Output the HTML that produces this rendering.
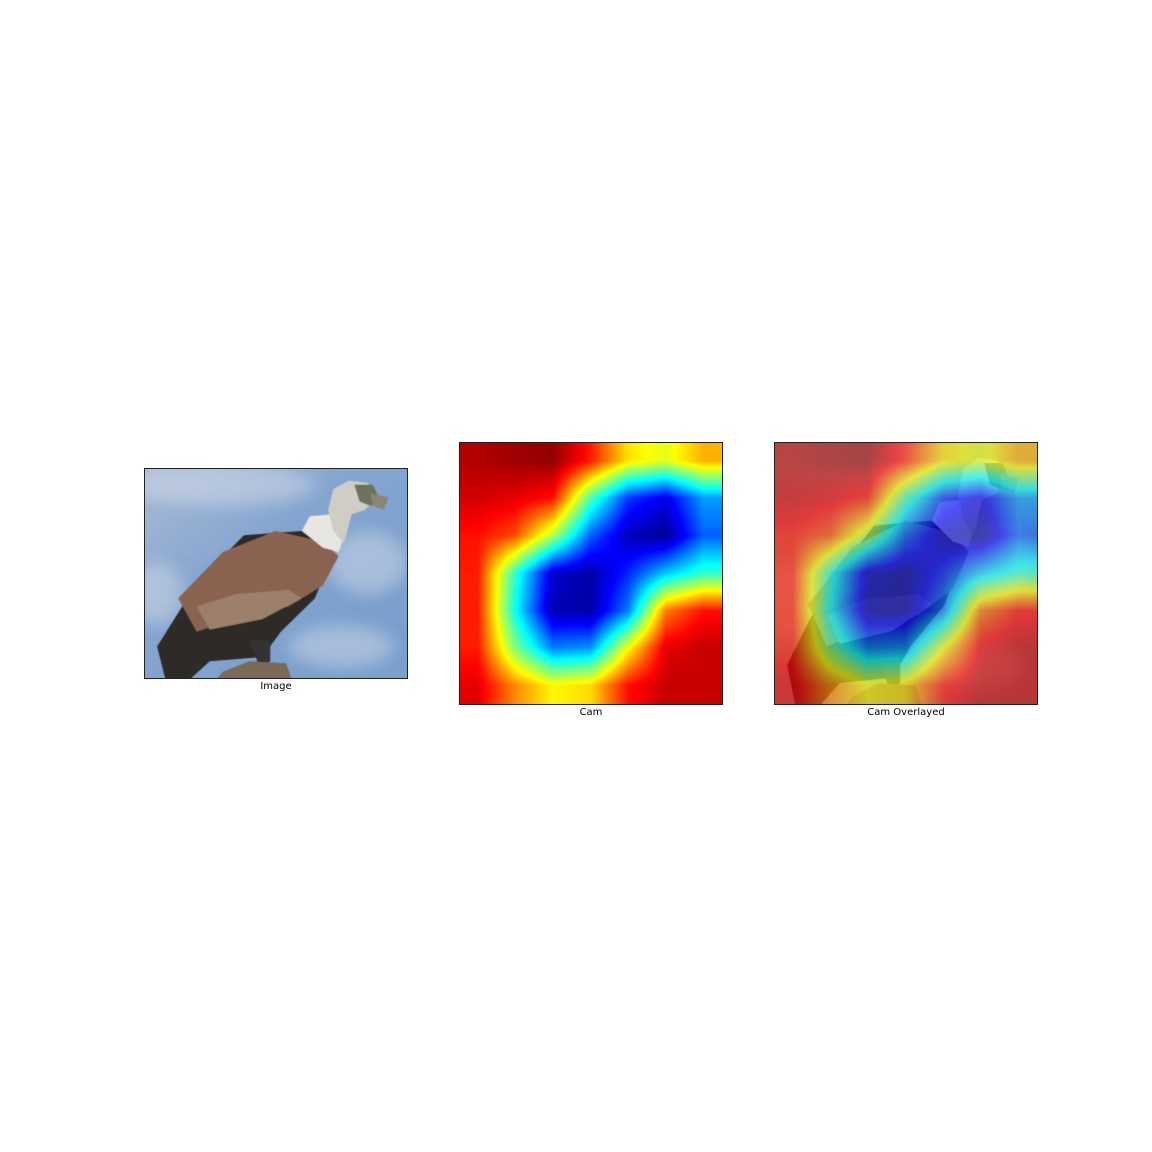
<!DOCTYPE html>
<html><head><meta charset="utf-8"><style>
html,body{margin:0;padding:0;background:#fff;width:1152px;height:1152px;overflow:hidden;position:relative;font-family:"DejaVu Sans","Liberation Sans",sans-serif}
canvas{position:absolute;display:block}
.frame{position:absolute;border:1px solid #222;box-sizing:border-box;pointer-events:none}
.lbl{position:absolute;font-size:10px;color:#000;text-align:center;width:200px}
</style></head><body>
<canvas id="img" width="263" height="210" style="left:144px;top:468px"></canvas>
<div class="frame" style="left:144px;top:468px;width:264px;height:211px"></div>
<div class="lbl" style="left:176px;top:681px">Image</div>
<canvas id="cam" width="263" height="262" style="left:459px;top:442px"></canvas>
<div class="frame" style="left:459px;top:442px;width:264px;height:263px"></div>
<div class="lbl" style="left:491px;top:707px">Cam</div>
<canvas id="ov" width="263" height="262" style="left:774px;top:442px"></canvas>
<div class="frame" style="left:774px;top:442px;width:264px;height:263px"></div>
<div class="lbl" style="left:806px;top:707px">Cam Overlayed</div>
<script>
const camRow0=[0.95,0.97,0.98,0.85,0.65,0.6,0.7];
const camRow1=[0.92,0.9,0.86,0.45,0.18,0.1,0.28];
const camRow2=[0.86,0.8,0.55,0.22,0.06,0.02,0.22];
const camRow3=[0.85,0.42,0.08,0.04,0.16,0.32,0.42];
const camRow4=[0.85,0.38,0.05,0.04,0.25,0.75,0.86];
const camRow5=[0.85,0.5,0.25,0.27,0.62,0.9,0.93];
const camRow6=[0.9,0.74,0.63,0.66,0.86,0.93,0.93];
const camGrid=[camRow0,camRow1,camRow2,camRow3,camRow4,camRow5,camRow6];

function jet(v){
  v=Math.max(0,Math.min(1,v));
  const f=x=>Math.max(0,Math.min(1,x));
  const r=f(1.5-Math.abs(4*v-3)),g=f(1.5-Math.abs(4*v-2)),b=f(1.5-Math.abs(4*v-1));
  return [r*255,g*255,b*255];
}
function camVal(u,v){
  const n=camGrid.length;
  let x=u*n-0.5,y=v*n-0.5;
  x=Math.max(0,Math.min(n-1,x));y=Math.max(0,Math.min(n-1,y));
  const x0=Math.floor(x),y0=Math.floor(y),x1=Math.min(n-1,x0+1),y1=Math.min(n-1,y0+1);
  const fx=x-x0,fy=y-y0;
  const a=camGrid[y0][x0]*(1-fx)+camGrid[y0][x1]*fx;
  const b=camGrid[y1][x0]*(1-fx)+camGrid[y1][x1]*fx;
  return a*(1-fy)+b*fy;
}
function drawBird(ctx,w,h){
  const P=(x,y)=>[x*w,y*h];
  let g=ctx.createLinearGradient(0,0,w*0.6,h);
  g.addColorStop(0,'#a9bbd6');g.addColorStop(0.5,'#84a5d0');g.addColorStop(1,'#7ba0cd');
  ctx.fillStyle=g;ctx.fillRect(0,0,w,h);
  ctx.filter='blur(8px)';
  ctx.fillStyle='rgba(220,224,234,0.45)';
  [[0.3,0.08,0.35,0.1],[0.85,0.45,0.15,0.15],[0.75,0.85,0.2,0.1],[0.05,0.6,0.1,0.15]].forEach(c=>{ctx.beginPath();ctx.ellipse(c[0]*w,c[1]*h,c[2]*w,c[3]*h,0,0,7);ctx.fill();});
  ctx.filter='none';
  function poly(pts,col){ctx.fillStyle=col;ctx.beginPath();pts.forEach((p,i)=>{const q=P(p[0],p[1]);i?ctx.lineTo(q[0],q[1]):ctx.moveTo(q[0],q[1]);});ctx.closePath();ctx.fill();}
  poly([[0.05,0.85],[0.2,0.55],[0.38,0.32],[0.6,0.3],[0.72,0.4],[0.65,0.62],[0.52,0.78],[0.45,0.9],[0.25,0.92],[0.18,1],[0.08,1]],'#2e2a26');
  poly([[0.13,0.62],[0.3,0.4],[0.5,0.3],[0.68,0.35],[0.74,0.42],[0.68,0.56],[0.55,0.66],[0.35,0.72],[0.2,0.78]],'#8a6450');
  poly([[0.2,0.66],[0.35,0.6],[0.55,0.58],[0.6,0.62],[0.45,0.72],[0.25,0.77]],'#9c806c');
  poly([[0.6,0.3],[0.63,0.23],[0.72,0.22],[0.76,0.33],[0.74,0.4],[0.68,0.38]],'#e8e6e0');
  poly([[0.7,0.2],[0.72,0.1],[0.78,0.06],[0.85,0.07],[0.88,0.15],[0.84,0.2],[0.79,0.22],[0.76,0.36],[0.72,0.3]],'#d0cec4');
  poly([[0.8,0.08],[0.87,0.08],[0.9,0.16],[0.86,0.18],[0.82,0.16]],'#6d7260');
  poly([[0.86,0.12],[0.93,0.14],[0.91,0.2],[0.87,0.18]],'#8d8570');
  poly([[0.4,0.82],[0.48,0.82],[0.48,0.92],[0.44,0.95]],'#333');
  poly([[0.3,0.97],[0.4,0.92],[0.54,0.93],[0.56,1],[0.28,1]],'#7a6a58');
}
const ic=document.getElementById('img').getContext('2d');
drawBird(ic,263,210);

const cc=document.getElementById('cam'),cx=cc.getContext('2d');
const W=263,H=262;
const camData=cx.createImageData(W,H);
for(let y=0;y<H;y++)for(let x=0;x<W;x++){
  const c=jet(camVal((x+0.5)/W,(y+0.5)/H));const i=(y*W+x)*4;
  camData.data[i]=c[0];camData.data[i+1]=c[1];camData.data[i+2]=c[2];camData.data[i+3]=255;
}
cx.putImageData(camData,0,0);

const oc=document.getElementById('ov').getContext('2d');
drawBird(oc,W,H);
const base=oc.getImageData(0,0,W,H);
for(let y=0;y<H;y++)for(let x=0;x<W;x++){
  const i=(y*W+x)*4;const d=base.data;
  const gr=0.3*d[i]+0.59*d[i+1]+0.11*d[i+2];
  const c=jet(camVal((x+0.5)/W,(y+0.5)/H));const a=0.65;
  d[i]=c[0]*a+gr*(1-a);d[i+1]=c[1]*a+gr*(1-a);d[i+2]=c[2]*a+gr*(1-a);d[i+3]=255;
}
oc.putImageData(base,0,0);
</script>
</body></html>
